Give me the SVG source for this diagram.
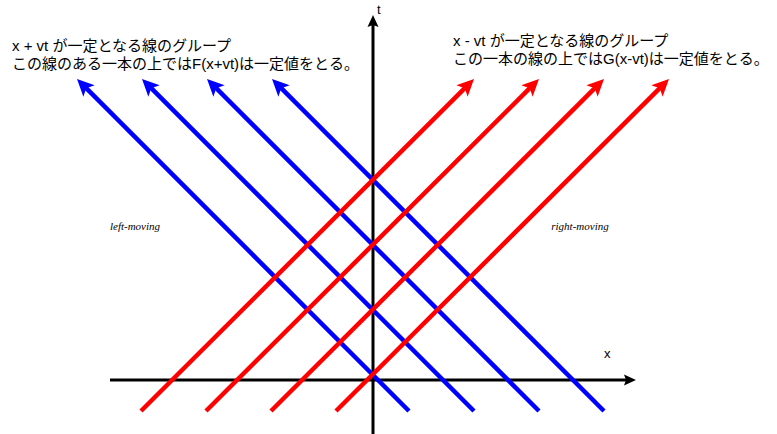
<svg xmlns="http://www.w3.org/2000/svg" width="777" height="434" viewBox="0 0 777 434">
<style>
.blue{stroke:#0000FF;stroke-width:4.5;fill:none}
.red{stroke:#FF0000;stroke-width:4.5;fill:none}
.axis{stroke:#000;stroke-width:3;fill:none}
.jp{font-family:"Liberation Sans","Noto Sans CJK JP",sans-serif;font-size:15px;fill:#000}
.ax{font-family:"Liberation Sans",sans-serif;font-size:13px;fill:#000}
.lab{font-family:"Liberation Serif",serif;font-style:italic;font-size:11px;fill:#000}
</style>
<defs>
<marker id="ab" markerUnits="userSpaceOnUse" markerWidth="30" markerHeight="30" viewBox="-10 -15 30 30" refX="0" refY="0" orient="auto" overflow="visible">
<path d="M-4,-8 L13,0 L-4,8 L0,0 Z" fill="#0000FF"/>
</marker>
<marker id="ar" markerUnits="userSpaceOnUse" markerWidth="30" markerHeight="30" viewBox="-10 -15 30 30" refX="0" refY="0" orient="auto" overflow="visible">
<path d="M-4,-8 L13,0 L-4,8 L0,0 Z" fill="#FF0000"/>
</marker>
<marker id="ak" markerUnits="userSpaceOnUse" markerWidth="30" markerHeight="30" viewBox="-10 -15 30 30" refX="0" refY="0" orient="auto" overflow="visible">
<path d="M-2,-5.5 L10,0 L-2,5.5 L0,0 Z" fill="#000"/>
</marker>
</defs>
<g id="connectors">
<line class="axis" x1="110" y1="380" x2="626" y2="380" marker-end="url(#ak)"/>
<line class="axis" x1="373" y1="434" x2="373" y2="25" marker-end="url(#ak)"/>
<line class="blue" x1="409" y1="411" x2="86.2" y2="88.2" marker-end="url(#ab)"/>
<line class="blue" x1="474" y1="411" x2="151.2" y2="88.2" marker-end="url(#ab)"/>
<line class="blue" x1="539" y1="411" x2="216.2" y2="88.2" marker-end="url(#ab)"/>
<line class="blue" x1="604" y1="411" x2="281.2" y2="88.2" marker-end="url(#ab)"/>
<line class="red" x1="141" y1="411" x2="464.8" y2="88.2" marker-end="url(#ar)"/>
<line class="red" x1="206" y1="411" x2="529.8" y2="88.2" marker-end="url(#ar)"/>
<line class="red" x1="271" y1="411" x2="594.8" y2="88.2" marker-end="url(#ar)"/>
<line class="red" x1="336" y1="411" x2="659.8" y2="88.2" marker-end="url(#ar)"/>
</g>
<g id="label-t"><text class="ax" x="377" y="14">t</text></g>
<g id="label-x"><text class="ax" x="604" y="358">x</text></g>
<g id="label-left-moving"><text class="lab" x="135" y="230" text-anchor="middle">left-moving</text></g>
<g id="label-right-moving"><text class="lab" x="580" y="230" text-anchor="middle">right-moving</text></g>
<g id="text-left">
<text class="jp" x="12" y="51">x + vt が一定となる線のグループ</text>
<text class="jp" x="12" y="69">この線のある一本の上ではF(x+vt)は一定値をとる。</text>
</g>
<g id="text-right">
<text class="jp" x="453" y="46">x - vt が一定となる線のグループ</text>
<text class="jp" x="453" y="64">この一本の線の上ではG(x-vt)は一定値をとる。</text>
</g>
</svg>
